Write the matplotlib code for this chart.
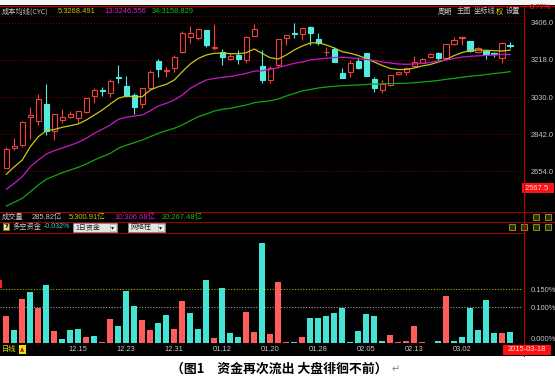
import matplotlib
matplotlib.use('Agg')
import matplotlib.pyplot as plt
from matplotlib.patches import Rectangle
import numpy as np

W, H = 555, 388

# 日K线 (上证指数, 至 2015-03-18)
opens = [2670.9, 2772.5, 2786.2, 2930.0, 2909.6, 2994.5, 2858.8, 2913.2, 2930.0, 2924.9,
         2955.4, 3035.1, 3065.6, 3051.9, 3130.1, 3087.4, 3040.2, 2993.0, 3077.3, 3212.9,
         3162.1, 3175.8, 3260.2, 3333.3, 3328.2, 3370.4, 3277.4, 3260.2, 3221.6, 3243.4,
         3218.0, 3339.9, 3189.0, 3116.4, 3192.6, 3328.2, 3353.6, 3348.6, 3387.2, 3323.2,
         3257.1, 3272.4, 3150.4, 3158.6, 3212.9, 3252.0, 3120.0, 3065.6, 3090.8, 3145.4,
         3158.6, 3189.0, 3204.3, 3231.7, 3255.1, 3226.6, 3299.3, 3329.8, 3314.5, 3260.2,
         3265.2, 3252.0, 3226.6, 3294.2]
highs = [2777.6, 2820.2, 2908.1, 2980.8, 3045.3, 3094.6, 2946.0, 2967.6, 2960.4, 2961.0,
         3025.0, 3077.3, 3082.4, 3120.0, 3192.6, 3138.2, 3051.9, 3076.0, 3167.2, 3221.6,
         3180.9, 3243.4, 3366.8, 3390.7, 3376.0, 3372.0, 3400.9, 3272.4, 3252.0, 3268.8,
         3338.0, 3400.9, 3268.8, 3189.0, 3325.0, 3347.0, 3407.5, 3381.0, 3389.0, 3353.6,
         3282.5, 3284.0, 3175.8, 3218.0, 3234.8, 3254.0, 3130.1, 3116.4, 3144.0, 3162.1,
         3184.0, 3238.3, 3227.0, 3252.0, 3257.0, 3300.0, 3333.3, 3334.0, 3316.0, 3285.6,
         3267.0, 3260.2, 3308.0, 3311.0]
lows = [2668.0, 2760.8, 2777.6, 2815.2, 2887.8, 2837.0, 2811.6, 2896.4, 2921.8, 2899.5,
        2950.3, 2998.0, 3035.1, 3031.6, 3099.6, 3031.6, 2943.7, 2972.6, 3065.6, 3130.1,
        3133.2, 3158.6, 3252.0, 3302.8, 3319.6, 3285.6, 3268.8, 3192.6, 3218.0, 3197.7,
        3204.3, 3338.0, 3099.6, 3102.7, 3175.8, 3294.2, 3328.2, 3319.6, 3294.2, 3294.2,
        3238.3, 3207.0, 3125.0, 3133.2, 3174.0, 3135.0, 3057.0, 3051.9, 3085.7, 3141.8,
        3141.8, 3184.0, 3201.0, 3227.0, 3214.4, 3223.1, 3294.2, 3294.2, 3260.2, 3252.0,
        3221.6, 3234.8, 3201.2, 3277.4]
closes = [2765.9, 2782.6, 2901.5, 2938.6, 3019.9, 2858.8, 2943.7, 2926.9, 2943.7, 2958.9,
          3023.4, 3065.6, 3060.5, 3111.3, 3126.6, 3035.1, 2977.7, 3074.2, 3158.6, 3170.8,
          3167.2, 3234.8, 3353.6, 3353.6, 3374.0, 3294.2, 3285.6, 3231.7, 3238.3, 3223.1,
          3336.4, 3374.0, 3116.4, 3175.8, 3323.2, 3345.0, 3350.1, 3379.0, 3353.6, 3305.9,
          3260.2, 3209.4, 3128.1, 3204.3, 3175.8, 3136.7, 3077.3, 3094.6, 3141.8, 3158.6,
          3175.8, 3206.3, 3223.1, 3248.5, 3229.7, 3297.8, 3319.6, 3333.3, 3265.2, 3280.5,
          3248.5, 3246.9, 3305.9, 3290.6]

# 成本均线 CYC 5 / 13 / 34
ma5 = [2637.4, 2676.0, 2710.0, 2777.6, 2828.4, 2858.8, 2865.0, 2876.1, 2884.2, 2892.9,
       2913.2, 2938.6, 2964.0, 2994.5, 3023.4, 3035.1, 3031.6, 3031.6, 3065.6, 3082.4,
       3094.6, 3116.4, 3158.6, 3197.7, 3225.6, 3243.4, 3252.0, 3253.6, 3250.0, 3250.0,
       3255.1, 3273.9, 3251.0, 3229.2, 3223.1, 3243.4, 3268.8, 3289.1, 3304.4, 3305.9,
       3294.2, 3279.0, 3260.2, 3252.0, 3240.9, 3225.6, 3207.8, 3190.1, 3175.0, 3169.7,
       3169.7, 3177.4, 3187.5, 3195.1, 3207.8, 3220.5, 3240.9, 3256.1, 3266.3, 3268.8,
       3267.3, 3265.2, 3263.7, 3268.5]
ma13 = [2561.2, 2591.6, 2625.2, 2676.0, 2710.0, 2740.5, 2757.2, 2771.0, 2784.7, 2799.9,
        2820.2, 2845.4, 2866.0, 2887.8, 2916.8, 2926.9, 2933.5, 2938.6, 2960.4, 2984.3,
        2998.0, 3014.8, 3040.2, 3074.2, 3096.1, 3116.4, 3124.0, 3130.1, 3134.2, 3141.8,
        3150.4, 3161.1, 3163.6, 3170.8, 3179.9, 3190.1, 3201.2, 3207.8, 3218.0, 3223.1,
        3226.6, 3230.7, 3231.7, 3229.2, 3225.6, 3220.5, 3215.5, 3207.8, 3202.8, 3197.7,
        3196.2, 3197.7, 3201.2, 3205.3, 3212.9, 3218.0, 3225.6, 3233.2, 3236.8, 3239.3,
        3240.9, 3243.4, 3245.9, 3246.6]
ma34 = [2476.3, 2495.1, 2515.4, 2549.0, 2583.0, 2611.9, 2628.7, 2645.5, 2659.2, 2672.9,
        2689.7, 2710.0, 2726.8, 2744.0, 2769.4, 2784.7, 2797.9, 2811.6, 2828.4, 2845.4,
        2858.8, 2871.0, 2887.8, 2909.6, 2929.9, 2943.7, 2958.9, 2967.6, 2972.6, 2980.8,
        2989.4, 3001.1, 3006.2, 3011.2, 3019.9, 3035.1, 3047.8, 3060.5, 3068.1, 3075.8,
        3080.8, 3084.4, 3087.4, 3089.5, 3091.0, 3093.5, 3096.1, 3097.1, 3098.1, 3098.6,
        3099.6, 3102.7, 3106.2, 3109.8, 3113.9, 3120.0, 3125.0, 3130.6, 3135.2, 3139.3,
        3144.3, 3149.4, 3153.5, 3158.8]
ma_last = [3268.491, 3246.556, 3158.829]
mark_price = 2567.5

# 多空资金 (%)  正=流入(红)  负=流出(青)
flow = [0.075, -0.036, 0.122, -0.142, 0.098, -0.161, 0.034, -0.010, -0.036, -0.040,
        0.016, -0.020, 0.002, 0.066, -0.048, -0.144, -0.103, 0.063, 0.036, -0.056,
        -0.077, 0.039, 0.118, -0.083, -0.040, -0.175, 0.014, -0.152, -0.028, -0.018,
        0.086, 0.030, -0.277, 0.024, 0.169, 0.003, -0.003, 0.016, -0.069, -0.069,
        -0.075, -0.083, -0.097, -0.002, -0.033, -0.081, -0.075, -0.006, 0.022, 0.002,
        0.005, 0.047, 0.002, 0.0, -0.005, 0.131, -0.005, -0.016, -0.097, -0.036,
        -0.119, -0.027, 0.027, -0.030]

date_pos = [9, 15, 21, 27, 33, 39, 45, 51, 57]
date_labels = ['12.15', '12.23', '12.31', '01.12', '01.20', '01.28', '02.05', '02.13', '03.02']
price_ticks = [3406.0, 3218.0, 3030.0, 2842.0, 2654.0]
flow_ticks = [0.0, 0.10, 0.15]

NUM = ['Liberation Sans', 'DejaVu Sans']
CJK = ['Noto Sans CJK SC', 'DejaVu Sans']
UP, DN = '#f04040', '#50ece0'
BAR_UP, BAR_DN = '#ff5c5c', '#44e4d4'
GRID = '#800000'
TXT = '#c8c8c8'
FS = 5.4

fig = plt.figure(figsize=(W / 100, H / 100), dpi=100, facecolor='black')


def px(x0, y0, x1, y1):
    return [x0 / W, 1 - y1 / H, (x1 - x0) / W, (y1 - y0) / H]


n = len(closes)
x = np.arange(n)
xlim = (-0.79, 64.6)

# ---- 主图 K线 + 均线
ax1 = fig.add_axes(px(0, 6, 523, 210), facecolor='black')
for i in range(n):
    o, h, l, c = opens[i], highs[i], lows[i], closes[i]
    if c >= o:
        ax1.vlines(i, l, h, color=UP, lw=0.8, zorder=2)
        ax1.add_patch(Rectangle((i - 0.34, o), 0.68, max(c - o, 0.5),
                                fc='black', ec=UP, lw=0.8, zorder=3))
    else:
        ax1.vlines(i, l, h, color=DN, lw=0.8, zorder=2)
        ax1.add_patch(Rectangle((i - 0.34, c), 0.68, o - c,
                                fc=DN, ec=DN, lw=0.8, zorder=3))
ax1.plot(x, ma5, color='#c8c810', lw=0.9, zorder=4)
ax1.plot(x, ma13, color='#c818c8', lw=0.9, zorder=4)
ax1.plot(x, ma34, color='#10a810', lw=0.9, zorder=4)
for p in price_ticks:
    ax1.axhline(p, color=GRID, lw=0.7, ls=(0, (1, 2)), zorder=1)
ax1.set_xlim(*xlim)
ax1.set_ylim(2456, 3492.3)
ax1.set_xticks([])
ax1.set_yticks(price_ticks, [f'{p:.1f}' for p in price_ticks])
ax1.yaxis.tick_right()
ax1.tick_params(axis='y', length=0, pad=5.5, labelsize=FS, labelcolor=TXT)
for lab in ax1.get_yticklabels():
    lab.set_family(NUM)
for s in ax1.spines.values():
    s.set_visible(False)
ax1.text(1.0, mark_price, f' {mark_price:.1f}  ', transform=ax1.get_yaxis_transform(),
         ha='left', va='center', fontsize=FS, family=NUM, color='#ffe0e0',
         bbox=dict(fc='#ff1010', ec='none', pad=1.0), clip_on=False, zorder=6)

# ---- 多空资金柱
ax2 = fig.add_axes(px(0, 233, 523, 344), facecolor='black')
vals = np.abs(flow)
cols = [BAR_UP if v >= 0 else BAR_DN for v in flow]
ax2.bar(x, vals, width=0.74, color=cols, edgecolor='none', zorder=2)
ax2.axhline(0.15, color='#b0b000', lw=0.8, ls=(0, (1, 1.5)), zorder=1)
ax2.axhline(0.10, color='#a0a0a0', lw=0.8, ls=(0, (1, 1.5)), zorder=1)
ax2.set_xlim(*xlim)
ax2.set_ylim(-1 / 360, 110 / 360)
ax2.set_xticks(date_pos, date_labels)
ax2.set_yticks(flow_ticks, [f'{v:.3f}%' for v in flow_ticks])
ax2.yaxis.tick_right()
ax2.tick_params(axis='y', length=0, pad=5.5, labelsize=FS, labelcolor=TXT)
ax2.tick_params(axis='x', length=0, pad=1.5, labelsize=FS, labelcolor=TXT)
for lab in ax2.get_xticklabels() + ax2.get_yticklabels():
    lab.set_family(NUM)
ax2.get_yticklabels()[0].set_va('bottom')
for s in ax2.spines.values():
    s.set_visible(False)

# ---- 外框、标题栏等 (像素坐标)
ov = fig.add_axes([0, 0, 1, 1], facecolor='none')
ov.set_xlim(0, W)
ov.set_ylim(H, 0)
ov.axis('off')
ov.add_patch(Rectangle((0, 0), W, 5, fc='#f4f4f4', ec='none'))
ov.add_patch(Rectangle((0, 356), W, H - 356, fc='white', ec='none'))
ov.plot([0, W], [5.5, 5.5], color='#d00000', lw=0.8)
ov.plot([0, 523], [16, 16], color=GRID, lw=0.7, ls=(0, (1, 2)))
ov.plot([523.5, 523.5], [5, 356], color='#c00000', lw=0.8)
for yy, x1 in [(212, W), (222, W), (233, 523)]:
    ov.plot([0, x1], [yy, yy], color='#a00000', lw=0.8)

# 第一行
ov.text(2, 11.5, '成本均线(CYC)', fontsize=5.2, family=CJK, color=TXT, va='center')
for xx, lab, val, col in [(58, '5', ma_last[0], '#c8c810'), (104, '13', ma_last[1], '#d020d0'),
                          (152, '34', ma_last[2], '#10c010')]:
    ov.text(xx, 11.5, f'{lab}:{val:.3f}', fontsize=FS, family=NUM, color=col, va='center')
for xx, lab, col in [(438, '周期', TXT), (457, '主图', TXT), (474, '坐标线', TXT),
                     (496, '权', '#d8d800'), (506, '设置', TXT)]:
    ov.text(xx, 11.5, lab, fontsize=5.2, family=CJK, color=col, va='center')
ov.text(540, 7.5, '0.77%', fontsize=FS, family=NUM, color='#ff2020', va='center', ha='center')

# 成交量行
ov.text(2, 217, '成交量', fontsize=5.2, family=CJK, color=TXT, va='center')
for xx, lab, col in [(32, '285.82亿', TXT), (69, '5:300.91亿', '#c8c810'),
                     (114, '10:306.68亿', '#d020d0'), (162, '20:267.48亿', '#10c010')]:
    ov.text(xx, 217, lab, fontsize=FS, family=NUM[:1] + CJK, color=col, va='center')

# 多空资金行
ov.add_patch(Rectangle((3, 223), 6, 7, fc='#e8d890', ec='#808000', lw=0.5))
ov.text(6, 226.5, '?', fontsize=4.5, color='black', ha='center', va='center', fontweight='bold')
ov.text(12, 227, '多空资金', fontsize=5.2, family=CJK, color=TXT, va='center')
ov.text(44, 227, '-0.032%', fontsize=5.0, family=NUM, color='#30d0d0', va='center')
for x0, x1, lab in [(73, 117, '1日资金'), (128, 165, '网络柱')]:
    ov.add_patch(Rectangle((x0, 223), x1 - x0, 8.5, fc='#e4e4e4', ec='#909090', lw=0.5, zorder=3))
    ov.add_patch(Rectangle((x1 - 7, 224), 6, 6.5, fc='#f4f4f4', ec='#a0a0a0', lw=0.4, zorder=3))
    ov.text(x0 + 2, 227.3, lab, fontsize=5.0, family=CJK, color='#202020', va='center', zorder=4)
    ov.text(x1 - 4, 227.3, '▾', fontsize=4.5, family=['DejaVu Sans'], color='#202020',
            ha='center', va='center', zorder=4)
for xx, yy in [(533, 214), (545, 214), (509, 223.5), (521, 223.5), (533, 223.5), (545, 223.5)]:
    ov.add_patch(Rectangle((xx, yy), 6, 6, fc='#303010', ec='#a0a020', lw=0.6))

# 底部
ov.add_patch(Rectangle((0, 280), 2, 8, fc='#ff2020', ec='none'))
ov.text(2, 349.5, '日线', fontsize=5.2, family=CJK, color='#e0e000', va='center')
ov.add_patch(Rectangle((19, 345), 7, 9, fc='#e8e800', ec='none'))
ov.text(22.5, 349.5, '▲', fontsize=4, family=['DejaVu Sans'], color='#d00000', ha='center', va='center')
ov.add_patch(Rectangle((503, 344.5), 48, 10.5, fc='#ff1010', ec='none', zorder=5))
ov.text(527, 349.8, '2015-03-18', fontsize=FS, family=NUM, color='#ffe0e0',
        ha='center', va='center', zorder=6)

# 图注
ov.text(279, 369, '（图1　资金再次流出 大盘徘徊不前）', fontsize=9.3, family=CJK,
        fontweight='bold', color='black', ha='center', va='center')
ov.text(396, 369, '↵', fontsize=7, family=['DejaVu Sans'], color='#808080', ha='center', va='center')

fig.savefig('out.png', dpi=100, facecolor=fig.get_facecolor())
